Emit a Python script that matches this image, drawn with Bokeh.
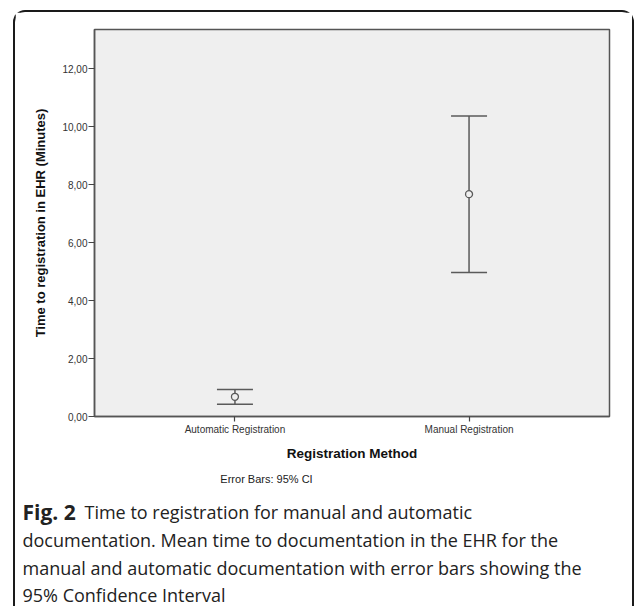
from bokeh.plotting import figure
from bokeh.layouts import column
from bokeh.models import (ColumnDataSource, FactorRange, Range1d, FixedTicker,
                          Whisker, TeeHead, Label)
from bokeh.embed import file_html
from bokeh.resources import INLINE

# ---- data ----
categories = ["Automatic Registration", "Manual Registration"]
mean_minutes = [0.68, 7.67]
ci_lower = [0.42, 4.97]
ci_upper = [0.93, 10.37]
y_ticks = [0, 2, 4, 6, 8, 10, 12]
y_tick_labels = ["0,00", "2,00", "4,00", "6,00", "8,00", "10,00", "12,00"]

footnote = "Error Bars: 95% CI"
caption_bold = "Fig. 2"
caption_lines = [
    "Time to registration for manual and automatic",
    "documentation. Mean time to documentation in the EHR for the",
    "manual and automatic documentation with error bars showing the",
    "95% Confidence Interval",
]

src = ColumnDataSource(dict(cat=categories, mean=mean_minutes,
                            lower=ci_lower, upper=ci_upper))

W = 617
H1, H2 = 453, 141
p = figure(width=W, height=H1, output_backend="svg", toolbar_location=None,
           x_range=FactorRange(factors=categories, range_padding=0.1),
           y_range=Range1d(0, 13.35),
           min_border_left=79, min_border_right=23,
           min_border_top=17, min_border_bottom=49)
p.frame_align = False

p.background_fill_color = "#efefef"
p.border_fill_color = "white"
p.outline_line_color = "#555555"
p.outline_line_width = 1.5
p.xgrid.visible = False
p.ygrid.visible = False

axis_font = "Liberation Sans"
ya = p.yaxis[0]
ya.ticker = FixedTicker(ticks=y_ticks)
ya.major_label_overrides = {t: l for t, l in zip(y_ticks, y_tick_labels)}
ya.axis_label = "Time to registration in EHR (Minutes)"
ya.axis_label_text_font = axis_font
ya.axis_label_text_font_style = "bold"
ya.axis_label_text_font_size = "13px"
ya.axis_label_text_color = "#111111"
ya.axis_label_standoff = 11
ya.major_label_text_font = axis_font
ya.major_label_text_font_size = "10px"
ya.major_label_text_color = "#333333"
ya.major_label_standoff = 1
ya.major_tick_out = 6
ya.major_tick_in = 0
ya.minor_tick_out = 0
ya.minor_tick_in = 0
ya.axis_line_color = "#555555"
ya.axis_line_width = 1.5
ya.major_tick_line_color = "#444444"
ya.major_tick_line_width = 1.2

xa = p.xaxis[0]
xa.axis_label = "Registration Method"
xa.axis_label_text_font = axis_font
xa.axis_label_text_font_style = "bold"
xa.axis_label_text_font_size = "13.5px"
xa.axis_label_text_color = "#111111"
xa.axis_label_standoff = 8
xa.major_label_text_font = axis_font
xa.major_label_text_font_size = "10px"
xa.major_label_text_color = "#333333"
xa.major_label_standoff = 2
xa.major_tick_out = 5
xa.major_tick_in = 0
xa.axis_line_color = "#555555"
xa.axis_line_width = 1.5
xa.major_tick_line_color = "#444444"
xa.major_tick_line_width = 1.2

line_col = "#5a5a5a"
w = Whisker(source=src, base="cat", lower="lower", upper="upper",
            line_color=line_col, line_width=1.5,
            upper_head=TeeHead(size=36, line_color=line_col, line_width=1.5),
            lower_head=TeeHead(size=36, line_color=line_col, line_width=1.5))
p.add_layout(w)
p.scatter("cat", "mean", source=src, marker="circle", size=7,
          fill_color="#efefef", line_color=line_col, line_width=1.3)

# ---- caption panel ----
c = figure(width=W, height=H2, output_backend="svg", toolbar_location=None,
           x_axis_type=None, y_axis_type=None, min_border=0,
           x_range=Range1d(0, 1), y_range=Range1d(0, 1))
c.frame_align = False
c.outline_line_color = None
c.background_fill_color = "white"
c.border_fill_color = "white"
c.xgrid.visible = False
c.ygrid.visible = False

c.add_layout(Label(x=251, y=128, x_units="screen", y_units="screen",
                   text=footnote, text_font=axis_font,
                   text_font_size="11px", text_color="#222222",
                   text_align="center", text_baseline="middle"))

cap_font = "Open Sans"
line_y = [95, 67, 39, 12]
c.add_layout(Label(x=7, y=line_y[0], x_units="screen", y_units="screen",
                   text=caption_bold, text_font=cap_font, text_font_style="bold",
                   text_font_size="21px", text_color="#222222",
                   text_baseline="middle"))
for i, t in enumerate(caption_lines):
    x0 = 69 if i == 0 else 7
    c.add_layout(Label(x=x0, y=line_y[i], x_units="screen", y_units="screen",
                       text=t, text_font=cap_font, text_font_size="18px",
                       text_color="#222222", text_baseline="middle"))

root = column(p, c, spacing=0, margin=(10, 0, 0, 13),
              styles={"border-top": "2px solid #1a1a1a",
                      "border-left": "2px solid #1a1a1a",
                      "border-right": "2px solid #1a1a1a",
                      "border-top-left-radius": "12px",
                      "border-top-right-radius": "12px"})

open("out.html", "w").write(file_html(root, INLINE))
